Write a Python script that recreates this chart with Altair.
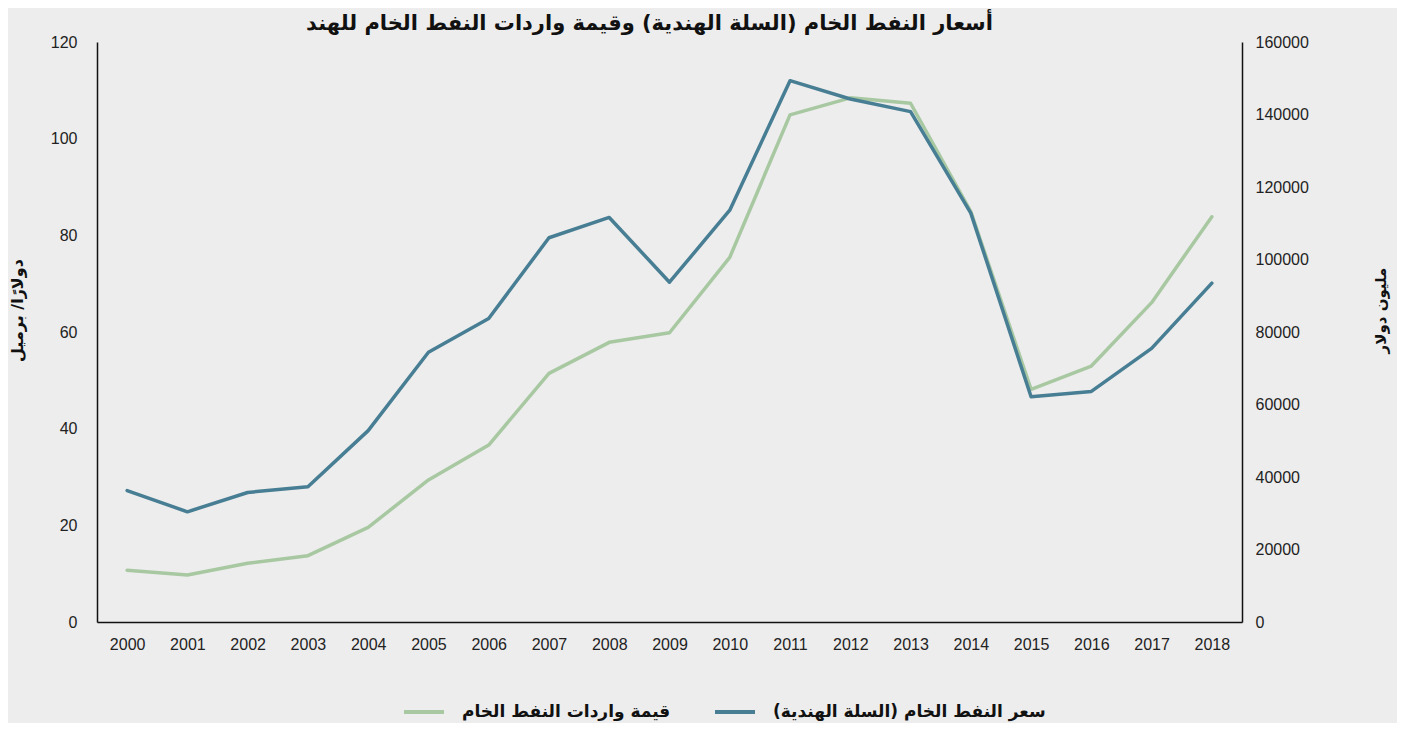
import altair as alt
import pandas as pd

years = [str(y) for y in range(2000, 2019)]
price = [27.2, 22.8, 26.8, 28.0, 39.6, 55.8, 62.8, 79.5, 83.7, 70.3,
         85.2, 112.0, 108.2, 105.6, 84.6, 46.6, 47.7, 56.6, 70.1]
imports = [14300, 12950, 16200, 18300, 26100, 39200, 48800, 68600, 77150, 79800,
           100600, 139900, 144600, 143100, 113200, 64200, 70600, 88100, 111800]

s_price = "سعر النفط الخام (السلة الهندية)"
s_imp = "قيمة واردات النفط الخام"
title_text = "أسعار النفط الخام (السلة الهندية) وقيمة واردات النفط الخام للهند"
left_title = "دولارًا/ برميل"
right_title = "مليون دولار"

df = pd.DataFrame({
    "year": years * 2,
    "series": [s_price] * len(years) + [s_imp] * len(years),
    "value": price + imports,
})

AR = "DejaVu Sans"
NUM = "Liberation Sans"
NUM_SIZE = 16

color = alt.Color(
    "series:N",
    scale=alt.Scale(domain=[s_imp, s_price], range=["#a8c8a2", "#477e94"]),
    legend=alt.Legend(
        title=None, orient="none", direction="horizontal",
        legendX=305, legendY=648,
        symbolType="stroke", symbolSize=1600, symbolStrokeWidth=4,
        labelFont=AR, labelFontWeight="bold", labelFontSize=17, labelColor="#111111",
        labelOffset=16, columnPadding=36, labelLimit=500, padding=0,
    ),
)

x = alt.X("year:O", title=None,
          scale=alt.Scale(type="point", padding=0.5),
          axis=alt.Axis(labelAngle=0, ticks=False, domainColor="#111111", domainWidth=1.5,
                        labelFont=NUM, labelFontSize=NUM_SIZE, labelColor="#222222",
                        labelPadding=14))

base = alt.Chart(df)

imp_line = base.transform_filter(alt.datum.series == s_imp).mark_line(
    strokeWidth=3.5, strokeCap="round", strokeJoin="round"
).encode(
    x=x,
    y=alt.Y("value:Q", title=right_title,
            scale=alt.Scale(domain=[0, 160000], nice=False, zero=True),
            axis=alt.Axis(orient="right", values=list(range(0, 160001, 20000)), format="d",
                          grid=False, ticks=False, domainColor="#111111", domainWidth=1.5,
                          labelFont=NUM, labelFontSize=NUM_SIZE, labelColor="#222222", labelPadding=13,
                          titleFont=AR, titleFontSize=15, titleFontWeight="bold",
                          titleColor="#111111", titleAngle=270, titleX=138, titleY=268,
                          titleAlign="center", titleBaseline="middle")),
    color=color,
)

price_line = base.transform_filter(alt.datum.series == s_price).mark_line(
    strokeWidth=3.5, strokeCap="round", strokeJoin="round"
).encode(
    x=x,
    y=alt.Y("value:Q", title=left_title,
            scale=alt.Scale(domain=[0, 120], nice=False, zero=True),
            axis=alt.Axis(orient="left", values=list(range(0, 121, 20)), format="d",
                          grid=False, ticks=False, domainColor="#111111", domainWidth=1.5,
                          labelFont=NUM, labelFontSize=NUM_SIZE, labelColor="#222222", labelPadding=20,
                          titleFont=AR, titleFontSize=16, titleFontWeight="bold",
                          titleColor="#111111", titleAngle=270, titleX=-80, titleY=268,
                          titleAlign="center", titleBaseline="middle")),
    color=color,
)

chart = alt.layer(imp_line, price_line).resolve_scale(y="independent").properties(
    width=1145, height=580,
    background="#ededed",
    autosize=alt.AutoSizeParams(type="none"),
    padding={"left": 89, "top": 34, "right": 155, "bottom": 101},
    title=alt.TitleParams(title_text, font=AR, fontSize=21, fontWeight="bold",
                          color="#111111", anchor="middle", dx=-20, offset=0),
).configure_view(stroke=None)

chart.save("out.html", embed_options={"renderer": "svg", "actions": False})
